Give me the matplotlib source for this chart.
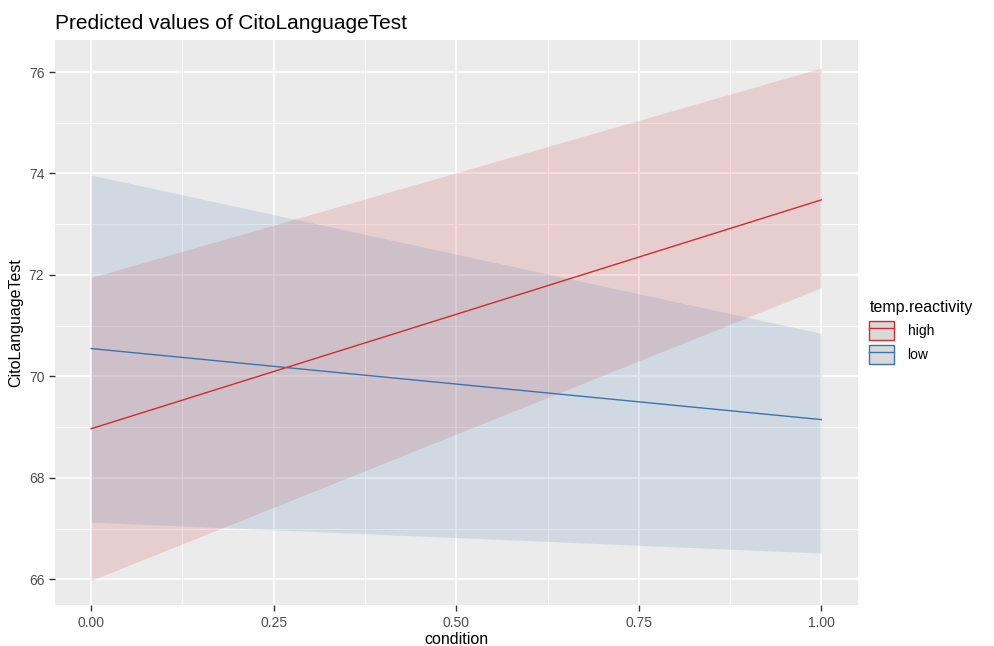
import matplotlib.pyplot as plt
from matplotlib.patches import Patch
from matplotlib.lines import Line2D
import numpy as np

plt.rcParams['font.family'] = ['Liberation Sans', 'DejaVu Sans']

condition = [0.0, 1.0]
groups = ['high', 'low']
predicted = {'high': [68.97, 73.48], 'low': [70.55, 69.15]}
ci_low = {'high': [65.98, 71.75], 'low': [67.13, 66.52]}
ci_high = {'high': [71.95, 76.08], 'low': [73.97, 70.85]}
colors = {'high': '#D42A2A', 'low': '#3A74B0'}

x_ticks = [0.0, 0.25, 0.5, 0.75, 1.0]
x_ticklabels = ['0.00', '0.25', '0.50', '0.75', '1.00']
y_ticks = [66, 68, 70, 72, 74, 76]


def plot_it():
    fig = plt.figure(figsize=(9.94, 6.46), dpi=100)
    ax = fig.add_axes([0.055, 0.063, 0.808, 0.875])
    ax.set_facecolor('#EBEBEB')

    for g in groups:
        ax.fill_between(condition, ci_low[g], ci_high[g], color=colors[g],
                        alpha=0.15, linewidth=0, zorder=2)
    for g in groups:
        ax.plot(condition, predicted[g], color=colors[g], linewidth=1.0, zorder=3)

    ax.set_xlim(-0.05, 1.05)
    ax.set_ylim(65.49, 76.63)
    ax.set_xticks(x_ticks)
    ax.set_xticklabels(x_ticklabels)
    ax.set_yticks(y_ticks)
    ax.set_xticks(np.arange(0.125, 1.0, 0.25), minor=True)
    ax.set_yticks(np.arange(67, 76, 2), minor=True)

    ax.grid(which='major', color='white', linewidth=1.2, zorder=1)
    ax.grid(which='minor', color='white', linewidth=0.6, zorder=1)
    ax.set_axisbelow(True)
    for s in ax.spines.values():
        s.set_visible(False)
    ax.tick_params(which='major', length=4, width=1, color='#333333',
                   labelcolor='#4D4D4D', labelsize=10)
    ax.tick_params(which='minor', length=0)

    ax.set_xlabel('condition', fontsize=11.5, labelpad=2)
    ax.set_ylabel('CitoLanguageTest', fontsize=11.5, labelpad=4)
    ax.set_title('Predicted values of CitoLanguageTest', fontsize=15,
                 loc='left', pad=8)

    handles = [(Patch(facecolor='#D9D9D9', edgecolor=colors[g], linewidth=1),
                Line2D([], [], color=colors[g], linewidth=1)) for g in groups]
    leg = fig.legend(handles, groups, title='temp.reactivity',
                     loc='upper left', bbox_to_anchor=(0.862, 0.555),
                     frameon=False, fontsize=10, title_fontsize=11.5,
                     handlelength=1.75, handleheight=1.75, handletextpad=1.0,
                     labelspacing=0.4)
    leg._legend_box.align = 'left'

    fig.savefig('out.png', dpi=100)


plot_it()
